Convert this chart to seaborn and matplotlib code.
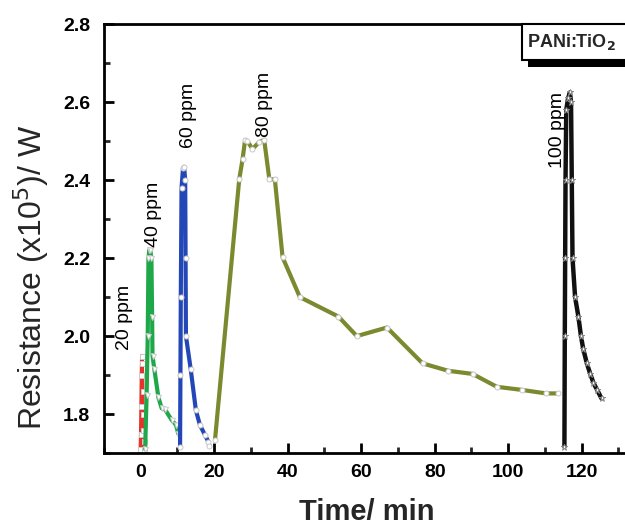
import numpy as np
import pandas as pd
import matplotlib
matplotlib.use("Agg")
import matplotlib.pyplot as plt
import seaborn as sns
from matplotlib.patches import Rectangle
from matplotlib.ticker import MultipleLocator

# ---- data ----
x20 = [-0.1, 0.0, 0.1, 0.2, 0.3, 0.4, 0.5, 0.6, 0.7, 0.8, 0.9]
y20 = [1.71, 1.75, 1.82, 1.90, 1.95, 1.93, 1.86, 1.80, 1.76, 1.73, 1.71]

x40 = [1.2, 1.6, 1.9, 2.1, 2.3, 2.6, 2.9, 3.1, 3.2, 3.7, 4.8, 5.7, 6.6, 8.4, 9.6, 10.2]
y40 = [1.71, 1.85, 2.00, 2.20, 2.22, 2.22, 2.20, 2.05, 1.95, 1.915, 1.843, 1.815, 1.812, 1.785, 1.772, 1.75]

x60 = [10.7, 10.8, 10.9, 11.1, 11.5, 11.8, 12.1, 12.2, 12.3, 13.6, 15.0, 16.1, 17.5, 18.4, 18.7]
y60 = [1.716, 1.90, 2.10, 2.38, 2.43, 2.434, 2.40, 2.20, 2.00, 1.915, 1.81, 1.772, 1.746, 1.729, 1.718]

x80 = [20.2, 26.8, 27.7, 28.4, 29.0, 30.4, 32.3, 33.6, 35.0, 36.5, 38.6, 43.3, 53.8,
       58.8, 67.0, 76.7, 83.7, 90.3, 96.9, 103.7, 110.3, 113.6]
y80 = [1.733, 2.402, 2.453, 2.503, 2.50, 2.48, 2.498, 2.503, 2.402, 2.402, 2.202, 2.10, 2.05,
       2.0, 2.022, 1.93, 1.911, 1.903, 1.87, 1.862, 1.853, 1.853]

x100 = [115.3, 115.4, 115.5, 115.6, 115.8, 116.3, 116.8, 117.1, 117.3, 117.5, 118.2, 119.1,
        119.8, 120.4, 121.4, 122.3, 123.2, 124.2, 125.4]
y100 = [1.716, 2.0, 2.2, 2.4, 2.58, 2.61, 2.625, 2.60, 2.40, 2.20, 2.10, 2.05,
        2.0, 1.968, 1.93, 1.904, 1.88, 1.862, 1.84]

labels = ["20 ppm", "40 ppm", "60 ppm", "80 ppm", "100 ppm"]
label_x = [-4.3, 3.6, 13.0, 33.6, 113.3]
label_y = [1.964, 2.228, 2.482, 2.511, 2.43]

xticks = [0, 20, 40, 60, 80, 100, 120]
yticks = [1.8, 2.0, 2.2, 2.4, 2.6, 2.8]

series = [
    (x20, y20, "#e8332c", "s", 2.6),
    (x40, y40, "#1fa84a", "v", 3.0),
    (x60, y60, "#2447b8", "o", 3.0),
    (x80, y80, "#7a8a2e", "o", 3.0),
    (x100, y100, "#111111", "*", 3.2),
]

sns.set_theme(style="ticks")
plt.rcParams['font.family'] = ['Liberation Sans', 'DejaVu Sans']

fig = plt.figure(figsize=(6.25, 5.25), dpi=100)
ax = fig.add_axes([0.1664, 0.137, 0.8525, 0.817])

for xs, ys, col, mk, lw in series:
    df = pd.DataFrame({"t": xs, "r": ys})
    sns.lineplot(data=df, x="t", y="r", ax=ax, color=col, lw=lw, sort=False,
                 estimator=None, marker=mk, markersize=3.6 if mk != "*" else 4.5,
                 markerfacecolor="white",
                 markeredgecolor="#c8c8c8" if col != "#111111" else "#888888",
                 markeredgewidth=0.7)

for lab, lx, ly in zip(labels, label_x, label_y):
    ax.text(lx, ly, lab, rotation=90, ha="center", va="bottom", fontsize=14, color="black")

ax.set_xlim(-10, 135)
ax.set_ylim(1.70, 2.80)
ax.set_xticks(xticks)
ax.set_yticks(yticks)
ax.set_xticklabels([str(v) for v in xticks], fontweight="bold", fontsize=14)
ax.set_yticklabels([f"{v:.1f}" for v in yticks], fontweight="bold", fontsize=14)
ax.xaxis.set_minor_locator(MultipleLocator(10))
ax.yaxis.set_minor_locator(MultipleLocator(0.1))
ax.tick_params(which="major", direction="in", length=7, width=2, pad=8, colors="black")
ax.tick_params(which="minor", direction="in", length=4, width=2)
ax.tick_params(axis="y", which="major", pad=10)

for s in ["left", "bottom", "top"]:
    ax.spines[s].set_linewidth(2)
    ax.spines[s].set_color("black")
ax.spines["right"].set_visible(False)

ax.set_xlabel("Time/ min", fontsize=21, fontweight="bold")
ax.set_ylabel("Resistance (x10$^{5}$)/ W", fontsize=23)
ax.xaxis.set_label_coords(0.494, -0.105)
ax.yaxis.set_label_coords(-0.10, 0.41)

# label box with shadow
ax.add_patch(Rectangle((105.5, 2.69), 40, 0.1, transform=ax.transData, fc="black",
                       ec="none", clip_on=False, zorder=5))
ax.add_patch(Rectangle((103.8, 2.708), 40, 0.092, transform=ax.transData, fc="white",
                       ec="black", lw=1.5, clip_on=False, zorder=6))
ax.text(117.2, 2.754, "PANi:TiO$_\\mathbf{2}$", ha="center", va="center", fontsize=13,
        fontweight="bold", zorder=7)

fig.savefig("out.png", dpi=100)
